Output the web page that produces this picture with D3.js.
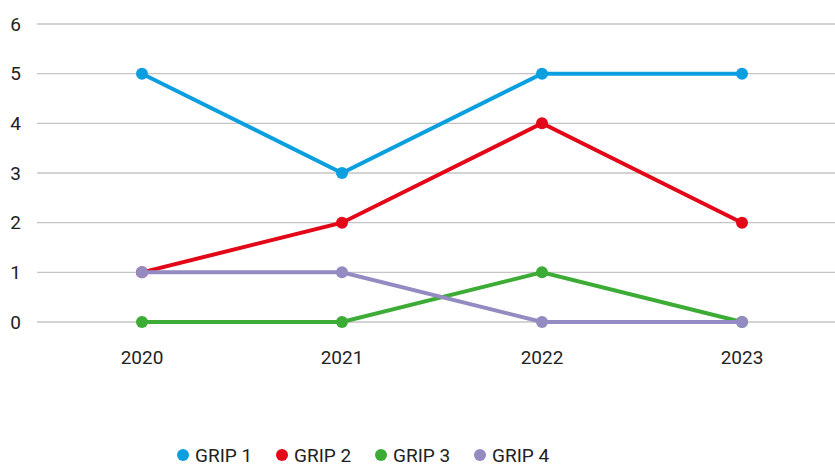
<!DOCTYPE html>
<html>
<head>
<meta charset="utf-8">
<script src="https://cdn.jsdelivr.net/npm/d3@7"></script>
<style>
    body { margin: 0; background: #fff; }
    text { font-family: Roboto, sans-serif; fill: #222; }
</style>
</head>
<body>
<script>
const width = 835;
const height = 464;

let margin = {top: 24, right: -7, bottom: 142, left: 42};

// Data
const years = ["2020", "2021", "2022", "2023"];
const seriesNames = ["GRIP 1", "GRIP 2", "GRIP 3", "GRIP 4"];
const grip1 = [5, 3, 5, 5];
const grip2 = [1, 2, 4, 2];
const grip3 = [0, 0, 1, 0];
const grip4 = [1, 1, 0, 0];
const yTicks = [0, 1, 2, 3, 4, 5, 6];
const colors = ["#0c9fe0", "#e30718", "#3dac36", "#948bc2"];

const series = [grip1, grip2, grip3, grip4].map((values, i) => ({
    name: seriesNames[i],
    color: colors[i],
    values: values
}));

let svg = d3.select("body")
    .append("svg")
    .attr("width", width)
    .attr("height", height);

let xScale = d3.scaleBand()
    .domain(years)
    .range([margin.left, width - margin.right]);

let yScale = d3.scaleLinear()
    .domain([0, 6])
    .range([height - margin.bottom, margin.top]);

// Gridlines
svg.append("g")
    .selectAll("line")
    .data(yTicks)
    .join("line")
    .attr("x1", 37)
    .attr("x2", width)
    .attr("y1", d => yScale(d))
    .attr("y2", d => yScale(d))
    .attr("stroke", "#c4c4c4")
    .attr("stroke-width", 1.3);

// Left axis labels
let leftAxis = d3.axisLeft(yScale)
    .tickValues(yTicks)
    .tickFormat(d3.format("d"))
    .tickSize(0)
    .tickPadding(0);
svg.append("g")
    .attr("transform", "translate(21, 0)")
    .call(leftAxis)
    .attr("font-size", null)
    .attr("font-family", null)
    .call(g => g.select(".domain").remove())
    .call(g => g.selectAll("text")
        .attr("text-anchor", "end")
        .style("font-size", "19px")
        .attr("fill", "#222"));

// Bottom axis labels
let bottomAxis = d3.axisBottom(xScale).tickSize(0).tickPadding(0);
svg.append("g")
    .attr("transform", `translate(0, ${yScale(0) + 28})`)
    .call(bottomAxis)
    .attr("font-size", null)
    .attr("font-family", null)
    .call(g => g.select(".domain").remove())
    .call(g => g.selectAll("text")
        .style("font-size", "19px")
        .attr("fill", "#222"));

const cx = d => xScale(d) + xScale.bandwidth() / 2;

let line = d3.line()
    .x((d, i) => cx(years[i]))
    .y(d => yScale(d));

// Lines and markers
let groups = svg.append("g")
    .selectAll("g")
    .data(series)
    .join("g");

groups.append("path")
    .attr("d", d => line(d.values))
    .attr("fill", "none")
    .attr("stroke", d => d.color)
    .attr("stroke-width", 4);

groups.selectAll("circle")
    .data(d => d.values.map((v, i) => ({v, i, color: d.color})))
    .join("circle")
    .attr("cx", d => cx(years[d.i]))
    .attr("cy", d => yScale(d.v))
    .attr("r", 6)
    .attr("fill", d => d.color);

// Legend
let legend = svg.append("g")
    .attr("transform", "translate(183, 455)");

let items = legend.selectAll("g")
    .data(series)
    .join("g")
    .attr("transform", (d, i) => `translate(${i * 99}, 0)`);

items.append("circle")
    .attr("r", 6)
    .attr("fill", d => d.color);

items.append("text")
    .attr("x", 12)
    .attr("dy", "0.35em")
    .style("font-size", "19px")
    .text(d => d.name);
</script>
</body>
</html>
